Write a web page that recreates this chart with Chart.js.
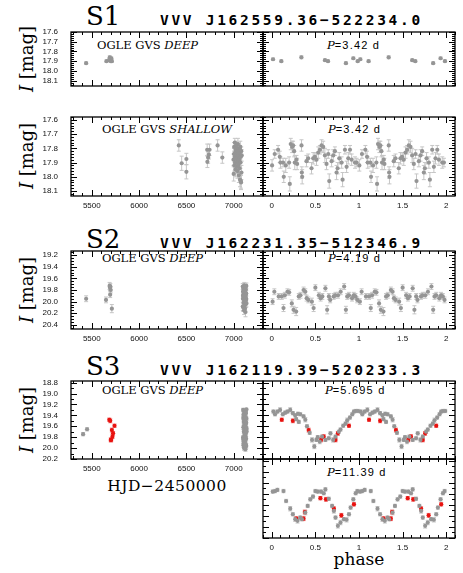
<!DOCTYPE html>
<html>
<head>
<meta charset="utf-8">
<script src="https://cdn.jsdelivr.net/npm/chart.js@4/dist/chart.umd.min.js"></script>
<style>
body { margin: 0; background: #fff; width: 463px; height: 573px; position: relative; overflow: hidden; }
canvas { position: absolute; }
.t { position: absolute; white-space: nowrap; line-height: 1; color: #000; }
.big { font-family: "DejaVu Serif"; font-size: 26px; }
.id { font-family: "DejaVu Sans Mono"; font-weight: bold; font-size: 14.5px; letter-spacing: 2.7px; }
.lab { font-family: "DejaVu Serif"; font-size: 11.5px; }
.per { font-family: "Liberation Sans"; font-size: 11px; letter-spacing: 1.2px; }
.per i { font-family: "DejaVu Serif"; font-size: 11.5px; letter-spacing: 0; }
.mag { font-family: "DejaVu Serif"; font-size: 18px; transform: translate(-50%, -50%) rotate(-90deg); }
.ax { font-family: "DejaVu Serif"; transform: translateX(-50%); }
</style>
</head>
<body>
<div class="t big" style="left:86px;top:3px">S1</div>
<div class="t id" style="left:160px;top:13px">VVV J162559.36−522234.0</div>
<div class="t big" style="left:86px;top:226px">S2</div>
<div class="t id" style="left:160px;top:236px">VVV J162231.35−512346.9</div>
<div class="t big" style="left:86px;top:353px">S3</div>
<div class="t id" style="left:160px;top:363px">VVV J162119.39−520233.3</div>

<div class="t lab" style="left:97px;top:40px">OGLE GVS <i>DEEP</i></div>
<div class="t lab" style="left:102px;top:124px">OGLE GVS <i>SHALLOW</i></div>
<div class="t lab" style="left:102px;top:253px">OGLE GVS <i>DEEP</i></div>
<div class="t lab" style="left:102px;top:385px">OGLE GVS <i>DEEP</i></div>

<div class="t per" style="left:327px;top:40px"><i>P</i>=3.42 d</div>
<div class="t per" style="left:328px;top:124px"><i>P</i>=3.42 d</div>
<div class="t per" style="left:328px;top:253px"><i>P</i>=4.19 d</div>
<div class="t per" style="left:325px;top:385px"><i>P</i>=5.695 d</div>
<div class="t per" style="left:327px;top:467px"><i>P</i>=11.39 d</div>

<div class="t mag" style="left:27px;top:59px"><i>I</i> [mag]</div>
<div class="t mag" style="left:27px;top:156px"><i>I</i> [mag]</div>
<div class="t mag" style="left:27px;top:290px"><i>I</i> [mag]</div>
<div class="t mag" style="left:27px;top:420px"><i>I</i> [mag]</div>

<div class="t ax" style="left:167px;top:479px;font-size:15.5px;letter-spacing:0.5px">HJD−2450000</div>
<div class="t ax" style="left:359px;top:551px;font-size:17px">phase</div>

<script>
// ---- tick labels
const hjdTicks = [5500, 6000, 6500, 7000];
const phaseTicks = [0, 0.5, 1, 1.5, 2];
const s1Ticks = [17.6, 17.7, 17.8, 17.9, 18.0, 18.1];
const s2Ticks = [19.2, 19.4, 19.6, 19.8, 20.0, 20.2, 20.4];
const s3Ticks = [18.8, 19.0, 19.2, 19.4, 19.6, 19.8, 20.0, 20.2];

// ---- S1: OGLE GVS DEEP (HJD, mag, phase for P=3.42 d)
const s1DeepHjd = [5440, 5655, 5682, 5690, 5696, 5701, 5706, 5712];
const s1DeepMag = [17.92, 17.90, 17.89, 17.86, 17.88, 17.90, 17.87, 17.90];
const s1DeepErr = [0.012, 0.012, 0.012, 0.015, 0.013, 0.012, 0.013, 0.012];
const s1DeepPhase = [0.85, 0.11, 0.61, 0.34, 0.015, 0.645, 0.935, 0.985];

// ---- S1: OGLE GVS SHALLOW, time series
const s1ShalHjd = [6420, 6450, 6500, 6500, 6720, 6722, 6730, 6738, 6745, 6830, 6880,
  6998, 7000, 7003, 7005, 7007, 7010, 7012, 7015, 7017, 7020,
  7022, 7025, 7027, 7030, 7032, 7035, 7037, 7040, 7042, 7045,
  7047, 7050, 7052, 7055, 7057, 7060, 7062, 7065, 7067, 7070,
  7072, 7075, 7077, 7080, 7082, 7085, 7018, 7048, 7068, 7078];
const s1ShalMag = [17.78, 17.905, 17.875, 17.965, 17.81, 17.895, 17.865, 17.845, 17.81, 17.78, 17.865,
  17.88, 17.98, 17.84, 17.79, 17.92, 17.86, 17.76, 17.90, 17.83, 17.95,
  17.81, 17.87, 17.78, 17.93, 17.85, 17.80, 17.89, 17.96, 17.82, 17.77,
  17.91, 17.86, 17.84, 17.99, 17.80, 17.88, 17.94, 17.83, 18.02, 17.79,
  17.90, 17.86, 18.03, 17.82, 17.97, 17.85, 17.87, 17.92, 17.81, 18.04];
const s1ShalErr = [0.04, 0.05, 0.04, 0.05, 0.04, 0.04, 0.04, 0.03, 0.04, 0.04, 0.04,
  0.04, 0.05, 0.04, 0.03, 0.04, 0.04, 0.03, 0.05, 0.04, 0.05,
  0.04, 0.04, 0.03, 0.05, 0.04, 0.04, 0.04, 0.05, 0.03, 0.04,
  0.04, 0.04, 0.04, 0.05, 0.03, 0.04, 0.05, 0.04, 0.05, 0.04,
  0.04, 0.04, 0.05, 0.03, 0.05, 0.04, 0.04, 0.04, 0.03, 0.05];

// ---- S1: SHALLOW folded with P=3.42 d
const s1FoldPhase = [0.004, 0.034, 0.073, 0.092, 0.10, 0.13, 0.138, 0.161, 0.199, 0.207,
  0.218, 0.234, 0.245, 0.257, 0.264, 0.284, 0.291, 0.341, 0.345, 0.349,
  0.398, 0.418, 0.456, 0.475, 0.494, 0.513, 0.533, 0.552, 0.571, 0.59,
  0.609, 0.628, 0.648, 0.659, 0.686, 0.705, 0.724, 0.743, 0.755, 0.774,
  0.801, 0.812, 0.839, 0.858, 0.877, 0.897, 0.916, 0.954, 0.973];
const s1FoldMag = [17.92, 17.84, 17.81, 17.86, 17.90, 17.90, 18.00, 17.92, 17.90, 18.05,
  17.77, 17.79, 17.78, 17.82, 17.90, 17.88, 17.91, 17.78, 17.97, 18.00,
  17.89, 17.87, 17.94, 17.87, 17.86, 17.88, 17.83, 17.81, 17.78, 17.79,
  17.85, 17.91, 17.84, 18.03, 17.89, 17.85, 17.82, 17.97, 17.94, 17.87,
  17.90, 18.02, 17.81, 17.93, 17.87, 17.81, 17.88, 17.90, 17.90];
const s1FoldErr = [0.04, 0.03, 0.03, 0.04, 0.04, 0.03, 0.04, 0.05, 0.04, 0.05,
  0.04, 0.04, 0.03, 0.04, 0.05, 0.03, 0.04, 0.04, 0.04, 0.05,
  0.04, 0.03, 0.04, 0.04, 0.03, 0.04, 0.04, 0.03, 0.04, 0.04,
  0.05, 0.04, 0.03, 0.05, 0.04, 0.04, 0.03, 0.05, 0.04, 0.04,
  0.04, 0.05, 0.03, 0.04, 0.04, 0.03, 0.04, 0.04, 0.03];

// ---- S2: OGLE GVS DEEP, time series
const s2Hjd = [5440, 5650, 5688, 5692, 5696, 5700, 5694, 5712,
  7096, 7098, 7100, 7101, 7103, 7104, 7106, 7107, 7109, 7110,
  7112, 7113, 7115, 7116, 7118, 7119, 7121, 7122, 7124, 7125,
  7127, 7128, 7130, 7131, 7133, 7134, 7097, 7102, 7105, 7108,
  7111, 7114, 7117, 7120, 7123, 7126, 7129, 7132, 7135, 7099];
const s2Mag = [19.95, 19.97, 19.73, 19.76, 19.74, 19.80, 19.88, 20.12,
  19.74, 19.95, 19.82, 20.10, 19.88, 19.78, 20.02, 19.91, 19.85, 20.15,
  19.72, 19.97, 19.80, 19.93, 20.06, 19.87, 19.76, 19.99, 19.84, 20.18,
  19.90, 19.79, 20.04, 19.86, 19.95, 19.73, 20.08, 19.83, 19.92, 19.77,
  20.00, 19.89, 19.81, 20.12, 19.94, 19.75, 19.98, 19.86, 20.03, 19.90];
const s2Err = [0.05, 0.05, 0.06, 0.05, 0.05, 0.05, 0.05, 0.07,
  0.05, 0.06, 0.05, 0.07, 0.05, 0.05, 0.06, 0.05, 0.05, 0.07,
  0.05, 0.06, 0.05, 0.05, 0.06, 0.05, 0.05, 0.06, 0.05, 0.08,
  0.05, 0.05, 0.06, 0.05, 0.06, 0.05, 0.07, 0.05, 0.05, 0.05,
  0.06, 0.05, 0.05, 0.07, 0.06, 0.05, 0.06, 0.05, 0.06, 0.05];

// ---- S2: folded with P=4.19 d
const s2FoldPhase = [0.01, 0.03, 0.08, 0.115, 0.135, 0.15, 0.18, 0.20, 0.23, 0.25,
  0.28, 0.31, 0.33, 0.365, 0.385, 0.40, 0.42, 0.46, 0.48, 0.50,
  0.54, 0.56, 0.58, 0.615, 0.635, 0.655, 0.67, 0.71, 0.73, 0.76,
  0.79, 0.83, 0.85, 0.865, 0.885, 0.92, 0.94, 0.96, 0.98];
const s2FoldMag = [20.00, 19.83, 19.91, 19.91, 20.11, 19.89, 19.83, 19.84, 20.03, 20.14,
  20.17, 19.91, 19.89, 19.80, 19.83, 19.94, 19.97, 20.00, 20.11, 19.76,
  19.89, 19.94, 19.91, 19.77, 20.14, 19.91, 19.97, 19.91, 19.89, 19.89,
  19.83, 19.74, 20.14, 19.91, 19.89, 19.94, 19.89, 19.91, 19.97];
const s2FoldErr = [0.05, 0.05, 0.05, 0.05, 0.06, 0.05, 0.05, 0.05, 0.06, 0.06,
  0.07, 0.05, 0.05, 0.05, 0.05, 0.05, 0.05, 0.06, 0.06, 0.05,
  0.05, 0.05, 0.05, 0.05, 0.07, 0.05, 0.05, 0.05, 0.05, 0.05,
  0.05, 0.05, 0.06, 0.05, 0.05, 0.05, 0.05, 0.05, 0.05];

// ---- S3: gray time series
const s3Hjd = [5408, 5450,
  7100, 7101, 7102, 7103, 7104, 7105, 7106, 7107, 7108, 7109,
  7110, 7111, 7112, 7113, 7114, 7115, 7116, 7117, 7118, 7119,
  7120, 7121, 7122, 7123, 7124, 7125, 7126, 7127, 7128, 7129,
  7130, 7131, 7132, 7133, 7134, 7135, 7136, 7100, 7104, 7108,
  7112, 7116, 7120, 7124, 7128, 7132, 7136, 7102, 7118, 7126];
const s3Mag = [19.745, 19.655,
  19.30, 19.45, 19.62, 19.80, 19.95, 19.38, 19.52, 19.70, 19.88, 20.00,
  19.33, 19.48, 19.66, 19.84, 19.97, 19.41, 19.57, 19.75, 19.90, 19.35,
  19.50, 19.68, 19.86, 19.99, 19.32, 19.44, 19.60, 19.78, 19.93, 19.36,
  19.55, 19.72, 19.83, 19.96, 19.29, 19.46, 19.64, 19.81, 19.92, 19.40,
  19.58, 19.74, 19.87, 20.02, 19.34, 19.53, 19.69, 19.85, 19.94, 19.43];
const s3Err = [0.03, 0.03,
  0.03, 0.03, 0.04, 0.03, 0.04, 0.03, 0.03, 0.03, 0.04, 0.04,
  0.03, 0.03, 0.03, 0.04, 0.04, 0.03, 0.03, 0.03, 0.04, 0.03,
  0.03, 0.03, 0.04, 0.04, 0.02, 0.03, 0.03, 0.03, 0.04, 0.03,
  0.03, 0.03, 0.04, 0.04, 0.02, 0.03, 0.03, 0.03, 0.04, 0.03,
  0.03, 0.03, 0.04, 0.04, 0.03, 0.03, 0.03, 0.04, 0.04, 0.03];

// ---- S3: red points (time, folded with P=5.695 d and P=11.39 d)
const s3RedHjd = [5685, 5695, 5712, 5700, 5718, 5705, 5725, 5740];
const s3RedMag = [19.48, 19.50, 19.67, 19.85, 19.79, 19.85, 19.73, 19.59];
const s3RedErr = [0.03, 0.035, 0.035, 0.035, 0.035, 0.035, 0.035, 0.03];
const s3RedPhaseA = [0.115, 0.242, 0.423, 0.565, 0.596, 0.731, 0.758, 0.885];
const s3RedPhaseB = [0.558, 0.621, 0.712, 0.282, 0.798, 0.365, 0.379, 0.942];

// ---- S3: gray folded with P=5.695 d
const s3PhaseA = [0.019, 0.038, 0.065, 0.096, 0.127, 0.154, 0.181, 0.212, 0.242, 0.269,
  0.28, 0.30, 0.31, 0.327, 0.365, 0.385, 0.404, 0.435, 0.462, 0.488,
  0.512, 0.527, 0.55, 0.577, 0.615, 0.654, 0.673, 0.704, 0.731, 0.769,
  0.788, 0.819, 0.846, 0.865, 0.896, 0.923, 0.942, 0.962, 0.988];
const s3MagA = [19.33, 19.38, 19.33, 19.30, 19.38, 19.35, 19.33, 19.30, 19.36, 19.40,
  19.47, 19.37, 19.52, 19.38, 19.42, 19.48, 19.60, 19.72, 19.85, 19.97,
  19.85, 19.80, 19.88, 19.79, 19.85, 19.82, 19.73, 19.85, 19.79, 19.70,
  19.66, 19.59, 19.55, 19.49, 19.44, 19.38, 19.33, 19.32, 19.32];
const s3ErrA = [0.03, 0.03, 0.03, 0.04, 0.03, 0.03, 0.03, 0.04, 0.03, 0.03,
  0.03, 0.03, 0.03, 0.03, 0.03, 0.04, 0.03, 0.03, 0.04, 0.04,
  0.03, 0.03, 0.04, 0.03, 0.03, 0.03, 0.03, 0.04, 0.03, 0.03,
  0.03, 0.03, 0.03, 0.04, 0.03, 0.03, 0.03, 0.03, 0.03];

// ---- S3: gray folded with P=11.39 d
const s3PhaseB = [0.012, 0.038, 0.065, 0.135, 0.165, 0.212, 0.242, 0.269, 0.296, 0.327,
  0.346, 0.385, 0.412, 0.442, 0.473, 0.50, 0.527, 0.565, 0.596, 0.615,
  0.654, 0.692, 0.712, 0.731, 0.758, 0.788, 0.827, 0.858, 0.885, 0.904,
  0.935, 0.962, 0.981];
const s3MagB = [19.36, 19.35, 19.33, 19.35, 19.53, 19.67, 19.77, 19.86, 19.89, 19.83,
  19.86, 19.74, 19.62, 19.50, 19.45, 19.35, 19.36, 19.36, 19.39, 19.32,
  19.49, 19.62, 19.71, 19.83, 19.98, 19.92, 19.86, 19.87, 19.77, 19.65,
  19.50, 19.39, 19.35];
const s3ErrB = [0.03, 0.03, 0.03, 0.03, 0.03, 0.04, 0.03, 0.04, 0.04, 0.03,
  0.03, 0.04, 0.03, 0.03, 0.03, 0.03, 0.03, 0.03, 0.03, 0.03,
  0.03, 0.03, 0.04, 0.03, 0.04, 0.04, 0.03, 0.04, 0.03, 0.03,
  0.03, 0.03, 0.03];

const GRAY = '#959595', GRAY_ERR = '#c6c6c6';
const RED = '#e8120f', RED_ERR = '#f07070';

// canvas margins round each plot box
const PL = 40, PR = 6, PT = 10, PB = 22;

function pts(xs, ys) {
  return xs.map((x, i) => ({ x: x, y: ys[i] }));
}
// two cycles: phase and phase + 1
function fold(ph, ys) {
  return pts(ph, ys).concat(pts(ph.map(p => p + 1), ys));
}
function set(data, errs, color, errColor) {
  return { data: data, errs: errs, errColor: errColor, backgroundColor: color,
    borderWidth: 0, pointRadius: 2.1, pointHoverRadius: 2.1 };
}

const errBars = {
  id: 'errBars',
  beforeDatasetsDraw(chart) {
    const { ctx, chartArea: a, scales: { x, y } } = chart;
    ctx.save();
    ctx.beginPath();
    ctx.rect(a.left, a.top, a.right - a.left, a.bottom - a.top);
    ctx.clip();
    ctx.lineWidth = 1;
    chart.data.datasets.forEach(ds => {
      ctx.strokeStyle = ds.errColor;
      ds.data.forEach((d, i) => {
        const e = ds.errs[i];
        const px = x.getPixelForValue(d.x);
        const y1 = y.getPixelForValue(d.y - e), y2 = y.getPixelForValue(d.y + e);
        ctx.beginPath();
        ctx.moveTo(px, y1); ctx.lineTo(px, y2);
        ctx.moveTo(px - 2, y1); ctx.lineTo(px + 2, y1);
        ctx.moveTo(px - 2, y2); ctx.lineTo(px + 2, y2);
        ctx.stroke();
      });
    });
    ctx.restore();
  }
};

function eachTick(minor, major, lo, hi, fn) {
  const n0 = Math.ceil(lo / minor - 1e-6), n1 = Math.floor(hi / minor + 1e-6);
  for (let n = n0; n <= n1; n++) {
    const v = n * minor, r = v / major;
    fn(v, Math.abs(r - Math.round(r)) < 1e-6 ? 6 : 3);
  }
}

// box with inward ticks on all four sides, plus tick labels
const frame = {
  id: 'frame',
  afterDraw(chart, args, o) {
    const { ctx, chartArea: a, scales: { x, y } } = chart;
    ctx.save();
    ctx.strokeStyle = '#000';
    ctx.lineWidth = 1;
    ctx.beginPath();
    eachTick(o.x[1], o.x[0], x.min, x.max, (v, len) => {
      const p = Math.round(x.getPixelForValue(v)) + 0.5;
      ctx.moveTo(p, a.bottom); ctx.lineTo(p, a.bottom - len);
      ctx.moveTo(p, a.top); ctx.lineTo(p, a.top + len);
    });
    eachTick(o.y[1], o.y[0], y.min, y.max, (v, len) => {
      const p = Math.round(y.getPixelForValue(v)) + 0.5;
      ctx.moveTo(a.left, p); ctx.lineTo(a.left + len, p);
      ctx.moveTo(a.right, p); ctx.lineTo(a.right - len, p);
    });
    ctx.stroke();
    ctx.lineWidth = 1.3;
    ctx.strokeRect(a.left, a.top, a.right - a.left, a.bottom - a.top);

    ctx.fillStyle = '#111';
    ctx.font = '8px "Liberation Sans"';
    if (o.xLabels) {
      ctx.textAlign = 'center';
      ctx.textBaseline = 'top';
      o.xLabels.forEach(v => ctx.fillText(String(v), x.getPixelForValue(v), a.bottom + 6));
    }
    if (o.yLabels) {
      ctx.textAlign = 'right';
      ctx.textBaseline = 'middle';
      o.yLabels.forEach(v => ctx.fillText(v.toFixed(1), a.left - 13, y.getPixelForValue(v)));
    }
    ctx.restore();
  }
};

function panel(box, xr, yr, datasets, xLabels, yLabels) {
  const c = document.createElement('canvas');
  const W = box[1] - box[0] + PL + PR, H = box[3] - box[2] + PT + PB;
  c.width = W; c.height = H;
  c.style.width = W + 'px'; c.style.height = H + 'px';
  c.style.left = (box[0] - PL) + 'px';
  c.style.top = (box[2] - PT) + 'px';
  document.body.appendChild(c);
  new Chart(c, {
    type: 'scatter',
    data: { datasets: datasets },
    options: {
      responsive: false, animation: false, events: [],
      layout: { padding: { top: PT, right: PR, left: PL, bottom: PB } },
      plugins: { legend: { display: false }, tooltip: { enabled: false },
        frame: { x: [xr[2], xr[3]], y: [yr[2], yr[3]], xLabels: xLabels, yLabels: yLabels } },
      scales: {
        x: { type: 'linear', display: false, min: xr[0], max: xr[1] },
        y: { type: 'linear', display: false, reverse: true, min: yr[0], max: yr[1] }
      }
    },
    plugins: [errBars, frame]
  });
}

const LEFT = [71, 263], RIGHT = [263, 455];
const hjdAxis = [5280, 7310, 500, 100];
const phaseAxis = [-0.1, 2.1, 0.5, 0.1];

// S1 deep
panel([...LEFT, 32, 86], hjdAxis, [17.6, 18.155, 0.1, 0.02],
  [set(pts(s1DeepHjd, s1DeepMag), s1DeepErr, GRAY, GRAY_ERR)], null, s1Ticks);
panel([...RIGHT, 32, 86], phaseAxis, [17.6, 18.155, 0.1, 0.02],
  [set(fold(s1DeepPhase, s1DeepMag), s1DeepErr.concat(s1DeepErr), GRAY, GRAY_ERR)], null, null);

// S1 shallow
panel([...LEFT, 117, 196], hjdAxis, [17.58, 18.135, 0.1, 0.02],
  [set(pts(s1ShalHjd, s1ShalMag), s1ShalErr, GRAY, GRAY_ERR)], hjdTicks, s1Ticks);
panel([...RIGHT, 117, 196], phaseAxis, [17.58, 18.135, 0.1, 0.02],
  [set(fold(s1FoldPhase, s1FoldMag), s1FoldErr.concat(s1FoldErr), GRAY, GRAY_ERR)], phaseTicks, null);

// S2
panel([...LEFT, 251, 329], hjdAxis, [19.13, 20.47, 0.2, 0.05],
  [set(pts(s2Hjd, s2Mag), s2Err, GRAY, GRAY_ERR)], hjdTicks, s2Ticks);
panel([...RIGHT, 251, 329], phaseAxis, [19.13, 20.47, 0.2, 0.05],
  [set(fold(s2FoldPhase, s2FoldMag), s2FoldErr.concat(s2FoldErr), GRAY, GRAY_ERR)], phaseTicks, null);

// S3
panel([...LEFT, 381, 459], hjdAxis, [18.77, 20.2, 0.2, 0.1],
  [set(pts(s3Hjd, s3Mag), s3Err, GRAY, GRAY_ERR),
   set(pts(s3RedHjd, s3RedMag), s3RedErr, RED, RED_ERR)], hjdTicks, s3Ticks);
panel([...RIGHT, 381, 459], phaseAxis, [18.77, 20.2, 0.2, 0.1],
  [set(fold(s3PhaseA, s3MagA), s3ErrA.concat(s3ErrA), GRAY, GRAY_ERR),
   set(fold(s3RedPhaseA, s3RedMag), s3RedErr.concat(s3RedErr), RED, RED_ERR)], null, null);
panel([...RIGHT, 459, 538], phaseAxis, [18.77, 20.2, 0.2, 0.1],
  [set(fold(s3PhaseB, s3MagB), s3ErrB.concat(s3ErrB), GRAY, GRAY_ERR),
   set(fold(s3RedPhaseB, s3RedMag), s3RedErr.concat(s3RedErr), RED, RED_ERR)], phaseTicks, null);
</script>
</body>
</html>
